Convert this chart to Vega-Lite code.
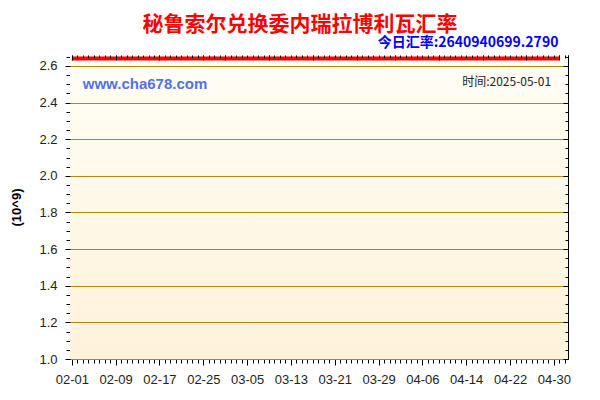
{
  "$schema": "https://vega.github.io/schema/vega-lite/v6.json",
  "width": 498,
  "height": 304,
  "autosize": {"type": "none"},
  "padding": {"left": 70, "top": 55, "right": 32, "bottom": 41},
  "background": "#FFFFFF",
  "title": {
    "text": "秘鲁索尔兑换委内瑞拉博利瓦汇率",
    "color": "#FF0000",
    "font": "Noto Sans CJK SC",
    "fontSize": 21,
    "fontWeight": "bold",
    "anchor": "middle",
    "dx": -19,
    "offset": 1
  },
  "data": {
    "values": [
      {"d": "2025-02-01", "v": 2.6409}, {"d": "2025-02-02", "v": 2.6409}, {"d": "2025-02-03", "v": 2.6409},
      {"d": "2025-02-04", "v": 2.6409}, {"d": "2025-02-05", "v": 2.6409}, {"d": "2025-02-06", "v": 2.6409},
      {"d": "2025-02-07", "v": 2.6409}, {"d": "2025-02-08", "v": 2.6409}, {"d": "2025-02-09", "v": 2.6409},
      {"d": "2025-02-10", "v": 2.6409}, {"d": "2025-02-11", "v": 2.6409}, {"d": "2025-02-12", "v": 2.6409},
      {"d": "2025-02-13", "v": 2.6409}, {"d": "2025-02-14", "v": 2.6409}, {"d": "2025-02-15", "v": 2.6409},
      {"d": "2025-02-16", "v": 2.6409}, {"d": "2025-02-17", "v": 2.6409}, {"d": "2025-02-18", "v": 2.6409},
      {"d": "2025-02-19", "v": 2.6409}, {"d": "2025-02-20", "v": 2.6409}, {"d": "2025-02-21", "v": 2.6409},
      {"d": "2025-02-22", "v": 2.6409}, {"d": "2025-02-23", "v": 2.6409}, {"d": "2025-02-24", "v": 2.6409},
      {"d": "2025-02-25", "v": 2.6409}, {"d": "2025-02-26", "v": 2.6409}, {"d": "2025-02-27", "v": 2.6409},
      {"d": "2025-02-28", "v": 2.6409}, {"d": "2025-03-01", "v": 2.6409}, {"d": "2025-03-02", "v": 2.6409},
      {"d": "2025-03-03", "v": 2.6409}, {"d": "2025-03-04", "v": 2.6409}, {"d": "2025-03-05", "v": 2.6409},
      {"d": "2025-03-06", "v": 2.6409}, {"d": "2025-03-07", "v": 2.6409}, {"d": "2025-03-08", "v": 2.6409},
      {"d": "2025-03-09", "v": 2.6409}, {"d": "2025-03-10", "v": 2.6409}, {"d": "2025-03-11", "v": 2.6409},
      {"d": "2025-03-12", "v": 2.6409}, {"d": "2025-03-13", "v": 2.6409}, {"d": "2025-03-14", "v": 2.6409},
      {"d": "2025-03-15", "v": 2.6409}, {"d": "2025-03-16", "v": 2.6409}, {"d": "2025-03-17", "v": 2.6409},
      {"d": "2025-03-18", "v": 2.6409}, {"d": "2025-03-19", "v": 2.6409}, {"d": "2025-03-20", "v": 2.6409},
      {"d": "2025-03-21", "v": 2.6409}, {"d": "2025-03-22", "v": 2.6409}, {"d": "2025-03-23", "v": 2.6409},
      {"d": "2025-03-24", "v": 2.6409}, {"d": "2025-03-25", "v": 2.6409}, {"d": "2025-03-26", "v": 2.6409},
      {"d": "2025-03-27", "v": 2.6409}, {"d": "2025-03-28", "v": 2.6409}, {"d": "2025-03-29", "v": 2.6409},
      {"d": "2025-03-30", "v": 2.6409}, {"d": "2025-03-31", "v": 2.6409}, {"d": "2025-04-01", "v": 2.6409},
      {"d": "2025-04-02", "v": 2.6409}, {"d": "2025-04-03", "v": 2.6409}, {"d": "2025-04-04", "v": 2.6409},
      {"d": "2025-04-05", "v": 2.6409}, {"d": "2025-04-06", "v": 2.6409}, {"d": "2025-04-07", "v": 2.6409},
      {"d": "2025-04-08", "v": 2.6409}, {"d": "2025-04-09", "v": 2.6409}, {"d": "2025-04-10", "v": 2.6409},
      {"d": "2025-04-11", "v": 2.6409}, {"d": "2025-04-12", "v": 2.6409}, {"d": "2025-04-13", "v": 2.6409},
      {"d": "2025-04-14", "v": 2.6409}, {"d": "2025-04-15", "v": 2.6409}, {"d": "2025-04-16", "v": 2.6409},
      {"d": "2025-04-17", "v": 2.6409}, {"d": "2025-04-18", "v": 2.6409}, {"d": "2025-04-19", "v": 2.6409},
      {"d": "2025-04-20", "v": 2.6409}, {"d": "2025-04-21", "v": 2.6409}, {"d": "2025-04-22", "v": 2.6409},
      {"d": "2025-04-23", "v": 2.6409}, {"d": "2025-04-24", "v": 2.6409}, {"d": "2025-04-25", "v": 2.6409},
      {"d": "2025-04-26", "v": 2.6409}, {"d": "2025-04-27", "v": 2.6409}, {"d": "2025-04-28", "v": 2.6409},
      {"d": "2025-04-29", "v": 2.6409}, {"d": "2025-04-30", "v": 2.6409}, {"d": "2025-05-01", "v": 2.6409}
    ]
  },
  "layer": [
    {
      "data": {"values": [{}]},
      "mark": {
        "type": "rect",
        "fill": {
          "gradient": "linear",
          "x1": 0, "y1": 0, "x2": 0, "y2": 1,
          "stops": [
            {"offset": 0, "color": "#FFFEF6"},
            {"offset": 1, "color": "#FEF2DA"}
          ]
        }
      }
    },
    {
      "mark": {"type": "line", "color": "#FF0000", "strokeWidth": 4, "clip": true},
      "encoding": {
        "x": {
          "field": "d", "type": "temporal",
          "scale": {"type": "utc", "domain": [
            {"year": 2025, "month": 1, "date": 31, "hours": 16, "utc": true},
            {"year": 2025, "month": 5, "date": 2, "hours": 14, "utc": true}
          ]},
          "axis": {
            "orient": "bottom", "title": null, "format": "%m-%d",
            "values": [
              {"year": 2025, "month": 2, "date": 1, "utc": true},
              {"year": 2025, "month": 2, "date": 9, "utc": true},
              {"year": 2025, "month": 2, "date": 17, "utc": true},
              {"year": 2025, "month": 2, "date": 25, "utc": true},
              {"year": 2025, "month": 3, "date": 5, "utc": true},
              {"year": 2025, "month": 3, "date": 13, "utc": true},
              {"year": 2025, "month": 3, "date": 21, "utc": true},
              {"year": 2025, "month": 3, "date": 29, "utc": true},
              {"year": 2025, "month": 4, "date": 6, "utc": true},
              {"year": 2025, "month": 4, "date": 14, "utc": true},
              {"year": 2025, "month": 4, "date": 22, "utc": true},
              {"year": 2025, "month": 4, "date": 30, "utc": true}
            ],
            "tickSize": 6, "labelPadding": 8, "grid": false, "domain": false
          }
        },
        "y": {
          "field": "v", "type": "quantitative",
          "scale": {"domain": [1.0, 2.66], "nice": false, "zero": false},
          "axis": {
            "orient": "left", "title": "(10^9)", "titleFontWeight": "bold",
            "titleFontSize": 13, "titlePadding": 15,
            "values": [1.0, 1.2, 1.4, 1.6, 1.8, 2.0, 2.2, 2.4, 2.6],
            "format": ".1f", "tickSize": 5, "labelPadding": 8, "zindex": 1,
            "grid": true, "gridColor": "#B8860B", "gridOpacity": 1, "domain": false
          }
        }
      }
    },
    {
      "mark": {"type": "line", "strokeOpacity": 0},
      "encoding": {
        "x": {
          "field": "d", "type": "temporal",
          "axis": {"orient": "bottom", "title": null, "labels": false, "grid": false, "domain": false,
            "tickCount": {"interval": "day", "step": 1}, "tickSize": 4}
        },
        "y": {
          "field": "v", "type": "quantitative",
          "axis": {"orient": "left", "title": null, "labels": false, "grid": false, "domain": false,
            "values": [1.0, 1.05, 1.1, 1.15, 1.2, 1.25, 1.3, 1.35, 1.4, 1.45, 1.5, 1.55, 1.6, 1.65, 1.7, 1.75, 1.8, 1.85, 1.9, 1.95, 2.0, 2.05, 2.1, 2.15, 2.2, 2.25, 2.3, 2.35, 2.4, 2.45, 2.5, 2.55, 2.6, 2.65],
            "tickSize": 4}
        }
      }
    },
    {
      "mark": {"type": "line", "strokeOpacity": 0},
      "encoding": {
        "x": {
          "field": "d", "type": "temporal",
          "axis": {"orient": "top", "title": null, "labels": false, "grid": false, "domain": false,
            "tickCount": {"interval": "day", "step": 1}, "tickSize": -3, "zindex": 1}
        },
        "y": {
          "field": "v", "type": "quantitative",
          "axis": {"orient": "right", "title": null, "labels": false, "grid": false, "domain": false,
            "values": [1.0, 1.05, 1.1, 1.15, 1.2, 1.25, 1.3, 1.35, 1.4, 1.45, 1.5, 1.55, 1.6, 1.65, 1.7, 1.75, 1.8, 1.85, 1.9, 1.95, 2.0, 2.05, 2.1, 2.15, 2.2, 2.25, 2.3, 2.35, 2.4, 2.45, 2.5, 2.55, 2.6, 2.65],
            "tickSize": -3, "zindex": 1}
        }
      }
    },
    {
      "mark": {"type": "line", "strokeOpacity": 0},
      "encoding": {
        "x": {
          "field": "d", "type": "temporal",
          "axis": {"orient": "top", "title": null, "labels": false, "grid": false, "domain": false,
            "tickCount": {"interval": "day", "step": 8}, "tickSize": -5, "zindex": 1}
        },
        "y": {
          "field": "v", "type": "quantitative",
          "axis": {"orient": "right", "title": null, "labels": false, "grid": false, "domain": false,
            "values": [1.0, 1.2, 1.4, 1.6, 1.8, 2.0, 2.2, 2.4, 2.6],
            "tickSize": -5, "zindex": 1}
        }
      }
    },
    {
      "data": {"values": [{"d": "2025-02-03", "v": 2.5, "t": "www.cha678.com"}]},
      "mark": {"type": "text", "align": "left", "baseline": "middle", "font": "Liberation Sans",
        "fontSize": 15, "fontWeight": "bold", "color": "#5470E8"},
      "encoding": {
        "x": {"field": "d", "type": "temporal", "axis": null},
        "y": {"field": "v", "type": "quantitative", "axis": null},
        "text": {"field": "t"}
      }
    },
    {
      "data": {"values": [{"d": "2025-04-29T12:00:00Z", "v": 2.513, "t": "时间:2025-05-01"}]},
      "mark": {"type": "text", "align": "right", "baseline": "middle", "font": "Noto Sans CJK SC",
        "fontSize": 12, "color": "#222222"},
      "encoding": {
        "x": {"field": "d", "type": "temporal", "axis": null},
        "y": {"field": "v", "type": "quantitative", "axis": null},
        "text": {"field": "t"}
      }
    },
    {
      "data": {"values": [{"d": "2025-04-30T20:00:00Z", "v": 2.728, "t": "今日汇率:2640940699.2790"}]},
      "mark": {"type": "text", "align": "right", "baseline": "middle", "font": "Noto Sans CJK SC",
        "fontSize": 14, "fontWeight": "bold", "color": "#0000FF", "clip": false},
      "encoding": {
        "x": {"field": "d", "type": "temporal", "axis": null},
        "y": {"field": "v", "type": "quantitative", "axis": null},
        "text": {"field": "t"}
      }
    }
  ],
  "resolve": {"axis": {"x": "independent", "y": "independent"}},
  "config": {
    "view": {"stroke": "#000000", "strokeWidth": 1},
    "axis": {
      "labelFont": "Liberation Sans", "labelFontSize": 13, "labelColor": "#222222",
      "titleFont": "Liberation Sans", "titleColor": "#000000",
      "tickColor": "#000000", "tickWidth": 1
    },
    "axisX": {"labelFontSize": 13}
  }
}
